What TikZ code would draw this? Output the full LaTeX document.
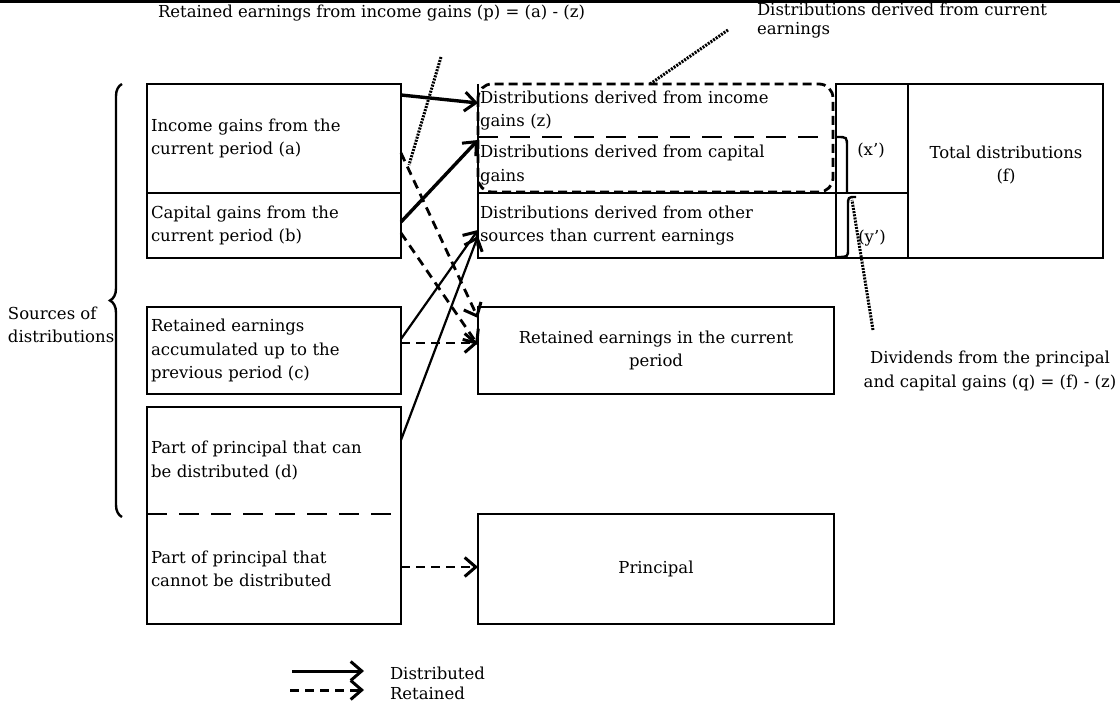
\documentclass[tikz,border=0pt]{standalone}
\usepackage{fontspec}
\setmainfont{DejaVu Serif}
\usetikzlibrary{arrows.meta,decorations.pathreplacing,calc}
\begin{document}
\begin{tikzpicture}[x=1pt,y=-1pt,
  font=\fontsize{16.5}{23.5}\selectfont,
  box/.style={draw, line width=2.2pt, inner sep=0pt, outer sep=0pt},
  lbox/.style={box, text width=246pt, inner xsep=4pt, align=left, minimum width=254pt},
  mtext/.style={inner sep=0pt, outer sep=0pt, text width=354pt, inner xsep=2pt, align=left, minimum width=358pt},
  tip/.style={-{Straight Barb[length=11pt,width=19pt,line width=3pt]}},
  dist/.style={line width=2.2pt, tip},
  distthick/.style={line width=3.4pt, tip},
  ret/.style={line width=2.8pt, dash pattern=on 9pt off 6pt, tip},
  dotline/.style={line width=3pt, dash pattern=on 2pt off 1.2pt},
  label/.style={inner sep=0pt, outer sep=0pt}
]
\useasboundingbox (0,0) rectangle (1120,706);
\draw[line width=3.5pt] (0,1.75) -- (1120,1.75);

% left boxes
\node[lbox, minimum height=109pt] (a) at (274,138.5) {Income gains from the\\current period (a)};
\node[lbox, minimum height=65pt] (b) at (274,225.5) {Capital gains from the\\current period (b)};
\node[lbox, minimum height=87pt] (c) at (274,350.5) {Retained earnings\\accumulated up to the\\previous period (c)};
\node[lbox, draw=none, minimum height=107pt] (d) at (274,460.5) {Part of principal that can\\be distributed (d)};
\node[lbox, draw=none, minimum height=110pt] (e) at (274,569) {Part of principal that\\cannot be distributed};
\draw[line width=2.2pt] (d.north west) rectangle (e.south east);
\draw[line width=2.8pt, dash pattern=on 20pt off 12pt] (d.south west) -- (d.south east);

% brace and sources label
\draw[line width=2.4pt, decorate, decoration={brace, amplitude=12pt}] (122,517) -- (122,84);
\node[label, anchor=west, align=left] (src) at (8,325) {Sources of\\distributions};

% middle top
\node[mtext, minimum height=53pt] (z) at (657,110.5) {Distributions derived from income\\gains (z)};
\node[mtext, minimum height=56pt] (cg) at (657,165) {Distributions derived from capital\\gains};
\node[mtext, minimum height=65pt] (os) at (657,225.5) {Distributions derived from other\\sources than current earnings};
\draw[line width=2.2pt] (z.north west) -- (os.south west) -- (os.south east);
\draw[line width=2.2pt] (os.north west) -- (os.north east);
\draw[line width=1.2pt] (z.north east) -- (os.south east);
\draw[line width=2.8pt, dash pattern=on 20pt off 12pt] (z.south west) -- ([xshift=-10pt]z.south east);
\draw[line width=2.8pt, dash pattern=on 9pt off 5pt, rounded corners=14pt] (z.north west) rectangle ([xshift=-3pt,yshift=1pt]cg.south east);

% x', y' columns and total
\node[box, minimum width=72pt, minimum height=109pt] (xp) at (872,138.5) {};
\node[box, minimum width=72pt, minimum height=65pt] (yp) at (872,225.5) {};
\node[label] (xpl) at (871,151) {(x')};
\node[label] (ypl) at (872,238) {(y')};
\node[box, minimum width=195pt, minimum height=174pt] (tot) at (1005.5,171) {};
\node[label, align=center] (totl) at (1006,165) {Total distributions\\(f)};

% braces at right
\coordinate (bx1) at (837,137);
\coordinate (bx2) at (847,193);
\draw[line width=2.4pt] (bx1) .. controls (847,137) .. (847,147) -- (bx2);
\coordinate (by1) at (856,197);
\coordinate (by2) at (837,257);
\draw[line width=2.4pt] (by1) .. controls (848,197) .. (848,206) -- (848,249) .. controls (848,257) .. (by2);

% lower middle boxes
\node[box, minimum width=356pt, minimum height=87pt, align=center] (rt) at (656,350.5) {Retained earnings in the current\\period};
\node[box, minimum width=356pt, minimum height=110pt] (pr) at (656,569) {Principal};

% labels
\node[label, anchor=west] (lp) at (158,13) {Retained earnings from income gains (p) = (a) - (z)};
\node[label, anchor=north west, align=left, font=\fontsize{16.5}{19}\selectfont] (lcur) at (757,3) {Distributions derived from current\\earnings};
\node[label, align=center] (ldiv) at (990,371) {Dividends from the principal\\and capital gains (q) = (f) - (z)};

% distributed arrows
\draw[distthick] ($(a.north east)+(0,11)$) -- ($(z.north west)+(0,19)$);
\draw[distthick] ($(b.north east)+(0,29)$) -- ($(cg.north west)+(0,3)$);
\draw[dist] ($(c.north east)+(0,32)$) -- ($(os.north west)+(0,37)$);
\draw[dist] ($(d.north east)+(0,33)$) -- ($(os.north west)+(0,43)$);

% retained arrows
\draw[ret] ($(a.north east)+(0,69)$) -- ($(rt.north west)+(0,11)$);
\draw[ret] ($(b.north east)+(0,40)$) -- ($(rt.north west)+(0,38)$);
\draw[ret] ($(c.north east)+(0,36)$) -- ($(rt.north west)+(0,36)$);
\draw[ret] ($(e.north east)+(0,53)$) -- ($(pr.north west)+(0,53)$);

% dotted pointers
\coordinate (p1) at (441,57);
\coordinate (p1e) at (409,165);
\draw[dotline] (p1) -- (p1e);
\coordinate (p2) at (728,30);
\coordinate (p2e) at (650,84);
\draw[dotline] (p2) -- (p2e);
\coordinate (p3) at (873,330);
\coordinate (p3e) at (852,200);
\draw[dotline] (p3) -- (p3e);

% legend
\coordinate (l1a) at (292,671);
\coordinate (l1b) at (364,671);
\coordinate (l2a) at (290,690);
\coordinate (l2b) at (364,690);
\draw[dist, line width=3pt] (l1a) -- (l1b);
\draw[ret, line width=3pt] (l2a) -- (l2b);
\node[label, anchor=west] (ld) at (390,673) {Distributed};
\node[label, anchor=west] (lr) at (390,693) {Retained};
\end{tikzpicture}
\end{document}
